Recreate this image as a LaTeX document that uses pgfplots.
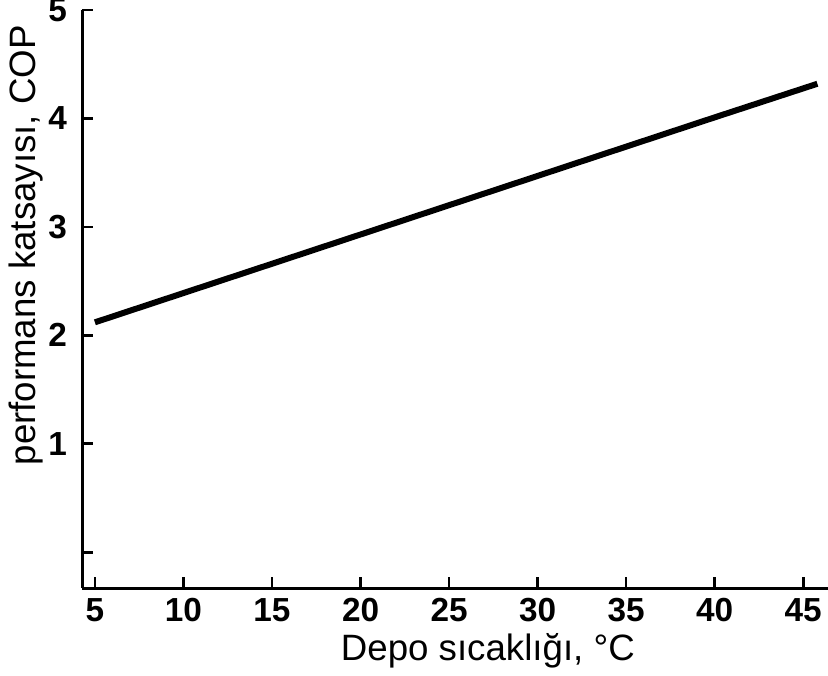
\documentclass[border=0pt]{standalone}
\usepackage{pgfplots}
\pgfplotsset{compat=1.18}
\usepackage{fontspec}
\setmainfont{Liberation Sans}
\begin{document}
\begin{tikzpicture}
\begin{axis}[
  name=ax,
  scale only axis,
  width=223.8pt, height=173.4pt,
  xmin=4.27, xmax=46.4,
  ymin=-0.33, ymax=5,
  axis lines=left,
  axis line style={-, line width=0.9pt},
  tick style={line width=0.8pt, black},
  tick align=inside,
  major tick length=3.2pt,
  xtick={5,10,...,45},
  ytick={0,1,2,3,4,5},
  yticklabels={,1,2,3,4,5},
  /pgf/number format/assume math mode=true,
  ticklabel style={font=\fontsize{10}{12}\selectfont\bfseries},
  xticklabel style={yshift=0.5pt},
  yticklabel style={xshift=-1pt},
  xlabel={Depo sıcaklığı, °C},
  ylabel={performans katsayısı, COP},
  label style={font=\fontsize{11}{13}\selectfont},
  xlabel style={at={(rel axis cs:0.544,0)}, anchor=north, yshift=-10pt},
  ylabel style={at={(rel axis cs:0,0.593)}, anchor=south, yshift=8pt},
  clip=false,
]
\addplot[black, line width=1.8pt] coordinates {
(5,2.12) (10,2.39) (15,2.66) (20,2.93) (25,3.20) (30,3.47) (35,3.74) (40,4.01) (45.8,4.32)
};
\end{axis}
\pgfresetboundingbox
\useasboundingbox ([xshift=-24.6pt,yshift=-26.1pt]ax.south west) rectangle ([yshift=3pt]ax.north east);
\end{tikzpicture}
\end{document}
